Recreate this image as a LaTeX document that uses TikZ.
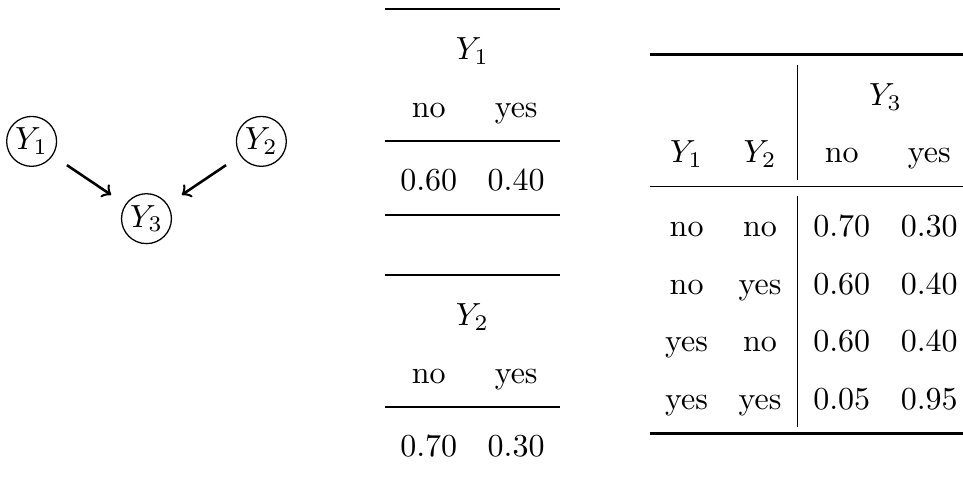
\documentclass[tikz,border=0pt]{standalone}
\usepackage{amsmath}
\usepackage{tikz}
\usetikzlibrary{matrix,arrows,calc,positioning}

\tikzset{
        var/.style={circle, draw, inner sep=0pt, minimum size=15.6pt},
        cell/.style={inner sep=0pt, outer sep=0pt, text height=12.6pt, text depth=5.4pt},
        cpt/.style={matrix of nodes, inner xsep=4.78pt, inner ysep=0pt, outer sep=0pt,
                column sep=9.56pt, nodes={cell}},
        heavyrule/.style={line width=0.8pt},
        lightrule/.style={line width=0.5pt},
        vrule/.style={line width=0.4pt}
}

\begin{document}
\begin{tikzpicture}
        \useasboundingbox (0,0) rectangle (300.94pt,-149.69pt);
        \matrix (g) [matrix of math nodes, row sep=8.15pt, column sep=19.9pt] at (45.78pt,-56.26pt)
        { |[var]| Y_1 & & |[var]| Y_2 \\
        & |[var]| Y_3 & \\};
        \path[->, thick, shorten >=5.3pt, shorten <=5.3pt]
        (g-1-1) edge (g-2-2)
        (g-1-3) edge (g-2-2)
        ;
        % P(Y_1)
        \matrix (t1) [cpt, anchor=north west] at (120.3pt,-24.01pt)
        { no & yes \\[5.02pt]
        0.60 & 0.40 \\};
        \node[cell, above=0pt of t1] (t1h) {$Y_1$};
        \draw[heavyrule] ($(t1.west |- t1h.north)+(0,3.2pt)$) -- ($(t1.east |- t1h.north)+(0,3.2pt)$);
        \draw[lightrule] ($(t1.west |- t1-1-1.south)+(0,-1.97pt)$) -- ($(t1.east |- t1-1-1.south)+(0,-1.97pt)$);
        \draw[heavyrule] ($(t1.south west)+(0,-2.12pt)$) -- ($(t1.south east)+(0,-2.12pt)$);
        % P(Y_2)
        \matrix (t2) [cpt, anchor=north west] at (120.3pt,-107.14pt)
        { no & yes \\[5.02pt]
        0.70 & 0.30 \\};
        \node[cell, above=0pt of t2] (t2h) {$Y_2$};
        \draw[heavyrule] ($(t2.west |- t2h.north)+(0,3.2pt)$) -- ($(t2.east |- t2h.north)+(0,3.2pt)$);
        \draw[lightrule] ($(t2.west |- t2-1-1.south)+(0,-1.97pt)$) -- ($(t2.east |- t2-1-1.south)+(0,-1.97pt)$);
        \draw[heavyrule] ($(t2.south west)+(0,-2.12pt)$) -- ($(t2.south east)+(0,-2.12pt)$);
        % P(Y_3 | Y_1, Y_2)
        \matrix (t3) [cpt, anchor=north west] at (203.1pt,-38.3pt)
        { $Y_1$ & $Y_2$ &[0.4pt] no & yes \\[5.02pt]
        no & no & 0.70 & 0.30 \\
        no & yes & 0.60 & 0.40 \\
        yes & no & 0.60 & 0.40 \\
        yes & yes & 0.05 & 0.95 \\};
        \node[cell, anchor=south] (t3h) at ($(t3-1-3.north)!0.5!(t3-1-4.north)$) {$Y_3$};
        \draw[heavyrule] ($(t3.west |- t3h.north)+(0,3.2pt)$) -- ($(t3.east |- t3h.north)+(0,3.2pt)$);
        \draw[lightrule] ($(t3.west |- t3-1-1.south)+(0,-1.97pt)$) -- ($(t3.east |- t3-1-1.south)+(0,-1.97pt)$);
        \draw[heavyrule] ($(t3.south west)+(0,-2.12pt)$) -- ($(t3.south east)+(0,-2.12pt)$);
        \coordinate (vx) at ($(t3-3-2.east)!0.5!(t3-3-3.west)$);
        \draw[vrule] (vx |- t3h.north) -- (vx |- t3-1-1.south);
        \draw[vrule] (vx |- t3-2-1.north) -- (vx |- t3.south);
\end{tikzpicture}
\end{document}
